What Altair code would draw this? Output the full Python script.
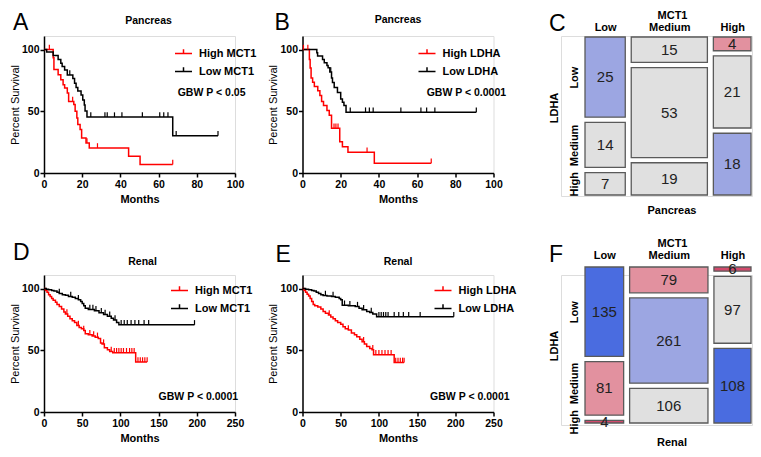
import altair as alt
import pandas as pd

FONT = "Liberation Sans"

# ---------------- Kaplan-Meier data (months, percent survival after each step) ----------------
A_HIGH_T = [0, 4.8, 5.2, 7.4, 8.8, 10.0, 10.8, 12.2, 12.9, 15.6, 16.3, 17.2, 17.7, 18.9, 19.7, 22.0, 23.7, 44.3, 50.3, 67.4]
A_HIGH_S = [100, 93.3, 83.8, 79.7, 75.6, 71.6, 68.9, 64.9, 58.0, 55.4, 50.0, 44.6, 39.2, 35.2, 28.4, 24.3, 20.3, 13.5, 6.8, 6.8]
A_HIGH_C = [2.8, 15.0, 22.5, 28.0, 67.4]
A_LOW_T = [0, 1.4, 4.8, 7.4, 8.8, 9.5, 10.8, 12.2, 15.1, 16.0, 16.8, 17.7, 19.4, 20.3, 21.1, 21.5, 22.5, 67.4, 91.1]
A_LOW_S = [100, 98.0, 95.3, 92.0, 88.9, 86.2, 83.5, 79.5, 76.5, 72.7, 69.2, 66.5, 63.2, 59.2, 55.1, 50.3, 45.3, 30.2, 30.2]
A_LOW_C = [13.5, 24.5, 31.9, 33.1, 36.9, 40.8, 51.5, 60.6, 62.7, 64.9, 69.2, 91.1]

B_HIGH_T = [0, 3.6, 4.0, 4.5, 5.3, 6.2, 8.0, 9.1, 10.0, 11.0, 12.8, 14.0, 15.2, 19.5, 20.9, 23.8, 37.6, 67.4]
B_HIGH_S = [100, 92.0, 85.0, 77.0, 73.5, 70.0, 66.7, 62.7, 58.0, 54.7, 50.7, 46.7, 36.3, 25.3, 21.3, 16.8, 8.0, 8.0]
B_HIGH_C = [0.5, 2.8, 16.5, 17.5, 18.6, 33.8, 67.4]
B_LOW_T = [0, 7.5, 7.9, 10.5, 11.4, 12.8, 13.4, 14.3, 15.2, 15.7, 16.6, 18.3, 20.0, 20.9, 21.7, 22.8, 91.0]
B_LOW_S = [100, 97.5, 94.7, 92.0, 89.3, 87.2, 85.3, 81.9, 77.0, 73.3, 69.3, 65.3, 60.0, 57.3, 54.7, 49.3, 49.3]
B_LOW_C = [14.8, 25.0, 33.0, 35.0, 37.0, 51.5, 62.0, 65.0, 69.3, 91.0]

D_HIGH_T = [0, 2, 4, 6, 8, 10, 12, 15, 17, 20, 23, 26, 28, 31, 34, 37, 40, 43, 46, 49, 52, 54, 58, 63, 67, 71, 74, 76, 79, 83, 86, 90, 120, 135]
D_HIGH_S = [100, 98.5, 97, 95, 93.5, 92, 90.5, 89, 87, 85.5, 83.5, 81, 79.5, 77.5, 75.5, 74, 72.5, 70, 68.5, 67.5, 66, 63.5, 62.5, 61.5, 60.5, 59.5, 56, 55, 52, 50.5, 49, 48, 40.5, 40.5]
D_HIGH_C = [30, 45, 52, 60, 65, 70, 78, 88, 92, 95, 98, 101, 104, 108, 112, 115, 118, 123, 126, 129, 132, 135]
D_LOW_T = [0, 3, 6, 10, 13, 17, 20, 24, 28, 32, 37, 41, 45, 48, 50, 52, 54, 58, 66, 72, 78, 83, 88, 91, 95, 98, 197]
D_LOW_S = [100, 99.5, 99, 98.5, 98, 97, 96, 95, 94.5, 93.5, 93, 92, 91, 89.5, 88, 86, 84, 83, 82, 80.5, 79, 77.5, 76, 74.5, 72.5, 70.6, 70.6]
D_LOW_C = [20, 35, 45, 60, 64, 68, 75, 80, 86, 93, 101, 105, 109, 114, 119, 124, 131, 137, 197]

E_HIGH_T = [0, 2, 4, 6, 8, 10, 12, 14, 16, 20, 24, 27, 30, 34, 37, 40, 43, 46, 50, 53, 56, 60, 64, 68, 71, 75, 78, 81, 84, 88, 91, 93, 120, 133]
E_HIGH_S = [100, 98.5, 97, 95.5, 94, 92, 89.5, 87, 86, 85, 83.5, 81.5, 80, 78.5, 77, 75.5, 74, 72.5, 71, 69, 67.5, 66.5, 64, 62.5, 61, 59, 57, 55, 53, 51.5, 50.5, 46.3, 40.2, 40.2]
E_HIGH_C = [35, 60, 80, 92, 96, 100, 104, 108, 112, 116, 122, 125, 128, 131, 133]
E_LOW_T = [0, 4, 8, 12, 15, 18, 21, 24, 27, 32, 38, 43, 48, 50, 52, 60, 69, 74, 78, 84, 88, 92, 97, 198]
E_LOW_S = [100, 99.5, 99, 98.5, 98, 97, 96, 95, 94.4, 94, 93.5, 93, 92, 91, 86.5, 86, 85.4, 84, 82.8, 81.5, 80.7, 79.5, 77.2, 77.2]
E_LOW_C = [30, 40, 55, 62, 72, 80, 90, 100, 103, 106, 109, 112, 120, 126, 132, 139, 154, 198]

# ---------------- mosaic data: rows = LDHA Low/Medium/High, cols = MCT1 Low/Medium/High ----------------
LEVELS = ["Low", "Medium", "High"]
PANC_COUNTS = [[25, 15, 4], [14, 53, 21], [7, 19, 18]]
PANC_SHADE = [["pos", "none", "neg"], ["none", "none", "none"], ["none", "none", "pos"]]
RENAL_COUNTS = [[135, 79, 6], [81, 261, 97], [4, 106, 108]]
RENAL_SHADE = [["pos2", "neg", "neg2"], ["neg", "pos", "none"], ["neg2", "none", "pos2"]]
SHADE_DOMAIN = ["pos2", "pos", "none", "neg", "neg2"]
SHADE_RANGE = ["#4a6ce0", "#9ca6e2", "#e0e0e0", "#e2919f", "#d24a6c"]

# ---------------- layout ----------------
W = 191
H_KM = 137
MOS_A, MOS_SPAN = 24, 166
GX, GY = 0.036, 0.033
LABEL_LEN = {"Low": 22.0, "Medium": 41.5, "High": 24.0}   # approx. rendered label lengths (px)


def step_value(t, s, x):
    v = s[0]
    for ti, si in zip(t, s):
        if ti <= x:
            v = si
    return v


def axis_km(title, values, weight, tpad, lpad):
    return alt.Axis(values=values, tickCount=20, title=title, grid=False, domainColor="black",
                    domainWidth=1.5, tickColor="black", tickWidth=1.5, tickSize=4, labelFont=FONT,
                    labelFontSize=10.5, labelFontWeight="bold", labelColor="black",
                    labelPadding=lpad, labelFlush=False, labelOverlap=False, titleFont=FONT,
                    titleFontSize=11, titleFontWeight=weight, titleColor="black", titlePadding=tpad)


def text_layer(label, x, y, size, weight, align="center", baseline="middle", angle=0):
    return alt.Chart(pd.DataFrame({"label": [label]})).mark_text(
        align=align, baseline=baseline, font=FONT, fontSize=size, fontWeight=weight, color="black",
        angle=angle
    ).encode(x=alt.value(x), y=alt.value(y), text="label:N")


def km_panel(letter, letter_xy, title, title_dx, title_y, labels, high, low, xmax, xstep,
             pval, pval_xy, legend_xy):
    (ht, hs, hc), (lt, ls, lc) = high, low
    curves = pd.DataFrame({"t": ht + lt, "s": hs + ls,
                           "g": [labels[0]] * len(ht) + [labels[1]] * len(lt)})
    cens = pd.DataFrame({"t": hc + lc,
                         "s": [step_value(ht, hs, c) for c in hc] + [step_value(lt, ls, c) for c in lc],
                         "g": [labels[0]] * len(hc) + [labels[1]] * len(lc)})
    x = alt.X("t:Q", scale=alt.Scale(domain=[0, xmax], nice=False),
              axis=axis_km("Months", list(range(0, xmax + 1, xstep)), "bold", 4, 2))
    y = alt.Y("s:Q", scale=alt.Scale(domain=[0, 111], nice=False),
              axis=axis_km("Percent Survival", [0, 50, 100], "normal", 1, 1))
    color = alt.Color("g:N", scale=alt.Scale(domain=labels, range=["#ff0000", "#000000"]),
                      legend=alt.Legend(orient="none", legendX=legend_xy[0], legendY=legend_xy[1],
                                        title=None, labelFont=FONT, labelFontSize=11,
                                        labelFontWeight="bold", labelColor="black",
                                        symbolType="M-1,0H1M0,0V-0.5", symbolSize=289,
                                        symbolStrokeWidth=1.5, labelOffset=6, rowPadding=3, padding=0))
    lines = alt.Chart(curves).mark_line(interpolate="step-after", strokeWidth=1.5).encode(
        x=x, y=y, color=color)
    ticks = alt.Chart(cens).mark_point(shape="M0,0L0,-1", size=90, filled=False, strokeWidth=1.2,
                                       opacity=1).encode(x=x, y=y, color=color)
    note = alt.Chart(pd.DataFrame({"label": [pval]})).mark_text(
        align="left", baseline="middle", font=FONT, fontSize=10.5, fontWeight="bold", color="black"
    ).encode(x=alt.datum(pval_xy[0]), y=alt.datum(pval_xy[1]), text="label:N")
    tag = text_layer(letter, letter_xy[0], letter_xy[1], 23, "normal", "left", "alphabetic")
    head = text_layer(title, W / 2 + title_dx, title_y, 10.5, "bold")
    return alt.layer(lines, ticks, note, tag, head).properties(width=W, height=H_KM)


def label_expr(vals, names):
    m01 = (vals[0] + vals[1]) / 2
    m12 = (vals[1] + vals[2]) / 2
    return (f"datum.value < {m01:.6f} ? '{names[0]}' : datum.value < {m12:.6f} ? "
            f"'{names[1]}' : '{names[2]}'")


def mosaic_panel(letter, letter_xy, counts, shades, bottom_title, height, top_rel, span_y,
                 ldha_y, foot_gap, head_pad):
    col_tot = [sum(counts[r][c] for r in range(3)) for c in range(3)]
    total = sum(col_tot)
    rows = []
    xc, yc = [], []
    xpos = 0.0
    for c in range(3):
        w = (1 - 2 * GX) * col_tot[c] / total
        xc.append(xpos + w / 2)
        ypos = 0.0
        for r in range(3):
            h = (1 - 2 * GY) * counts[r][c] / col_tot[c]
            rows.append({"x0": xpos, "x1": xpos + w, "y0": ypos, "y1": ypos + h,
                         "xm": xpos + w / 2, "ym": ypos + h / 2,
                         "n": counts[r][c], "shade": shades[r][c]})
            if c == 0:
                yc.append(ypos + h / 2)
            ypos += h + GY
        xpos += w + GX
    # keep the rotated row labels from running into each other (move "Medium" up if needed)
    need = (LABEL_LEN["Medium"] / 2 + LABEL_LEN["High"] / 2 + 6) / span_y
    if yc[2] - yc[1] < need:
        yc[1] = yc[2] - need
    df = pd.DataFrame(rows)

    xd0 = -MOS_A / MOS_SPAN
    xd1 = (W - MOS_A) / MOS_SPAN
    yd0 = -top_rel / span_y
    yd1 = yd0 + height / span_y
    xaxis = alt.Axis(orient="top", values=xc, tickCount=10, labelExpr=label_expr(xc, LEVELS),
                     domain=False, ticks=False, grid=False, labelAngle=0, labelPadding=head_pad,
                     labelFont=FONT, labelFontSize=11, labelFontWeight="bold", labelColor="black",
                     title="MCT1", titleFont=FONT, titleFontSize=11, titleFontWeight="bold",
                     titleColor="black", titlePadding=1, titleX=MOS_A + MOS_SPAN / 2 + 4,
                     offset=-top_rel, labelOverlap=False)
    yaxis = alt.Axis(orient="left", values=yc, tickCount=10, labelExpr=label_expr(yc, LEVELS),
                     domain=False, ticks=False, grid=False, labelAngle=270, labelAlign="center",
                     labelBaseline="bottom", labelPadding=6, labelFont=FONT, labelFontSize=11,
                     labelFontWeight="bold", labelColor="black", title=None, offset=-MOS_A,
                     labelOverlap=False)
    xs = alt.Scale(domain=[xd0, xd1], nice=False, zero=False)
    ys = alt.Scale(domain=[yd0, yd1], nice=False, zero=False, reverse=True)
    rect = alt.Chart(df).mark_rect(stroke="#5a5a5a", strokeWidth=1.3).encode(
        x=alt.X("x0:Q", scale=xs, axis=xaxis), x2="x1:Q",
        y=alt.Y("y0:Q", scale=ys, axis=yaxis), y2="y1:Q",
        color=alt.Color("shade:N", scale=alt.Scale(domain=SHADE_DOMAIN, range=SHADE_RANGE), legend=None))
    nums = alt.Chart(df).mark_text(font=FONT, fontSize=15, color="#222222", baseline="middle").encode(
        x=alt.X("xm:Q", scale=xs, axis=xaxis), y=alt.Y("ym:Q", scale=ys, axis=yaxis), text="n:Q")
    tag = text_layer(letter, letter_xy[0], letter_xy[1], 23, "normal", "left", "alphabetic")
    foot = text_layer(bottom_title, MOS_A + MOS_SPAN / 2 + 4, top_rel + span_y + foot_gap, 11, "bold")
    side = text_layer("LDHA", MOS_A - 30, ldha_y, 11, "bold", angle=270)
    return alt.layer(rect, nums, tag, foot, side).properties(width=W, height=height)


pA = km_panel("A", (-31, -6), "Pancreas", 9, -15, ["High MCT1", "Low MCT1"],
              (A_HIGH_T, A_HIGH_S, A_HIGH_C), (A_LOW_T, A_LOW_S, A_LOW_C), 100, 20,
              "GBW P < 0.05", (70, 65), (130, 8))
pB = km_panel("B", (-28, -6), "Pancreas", 0, -16, ["High LDHA", "Low LDHA"],
              (B_HIGH_T, B_HIGH_S, B_HIGH_C), (B_LOW_T, B_LOW_S, B_LOW_C), 100, 20,
              "GBW P < 0.0001", (65, 65), (115, 8))
pC = mosaic_panel("C", (-12, -5), PANC_COUNTS, PANC_SHADE, "Pancreas", 160, 1, 158, 72, 16, 5)
pD = km_panel("D", (-31, -15), "Renal", 3, -13, ["High MCT1", "Low MCT1"],
              (D_HIGH_T, D_HIGH_S, D_HIGH_C), (D_LOW_T, D_LOW_S, D_LOW_C), 250, 50,
              "GBW P < 0.0001", (150, 12), (126, 6))
pE = km_panel("E", (-27, -13), "Renal", 0, -13, ["High LDHA", "Low LDHA"],
              (E_HIGH_T, E_HIGH_S, E_HIGH_C), (E_LOW_T, E_LOW_S, E_LOW_C), 250, 50,
              "GBW P < 0.0001", (167, 12), (131, 6))
pF = mosaic_panel("F", (-12, -13), RENAL_COUNTS, RENAL_SHADE, "Renal", 150, -8, 156, 71, 20, 7)

chart = alt.concat(pA, pB, pC, pD, pE, pF, columns=3, bounds="flush", align="all",
                   spacing={"row": 79, "column": 67.5}).resolve_scale(
    x="independent", y="independent", color="independent").resolve_legend(
    color="independent").properties(padding=0).configure_view(stroke="transparent").configure(font=FONT)

chart.save("out.html", embed_options={"renderer": "svg", "actions": False})
